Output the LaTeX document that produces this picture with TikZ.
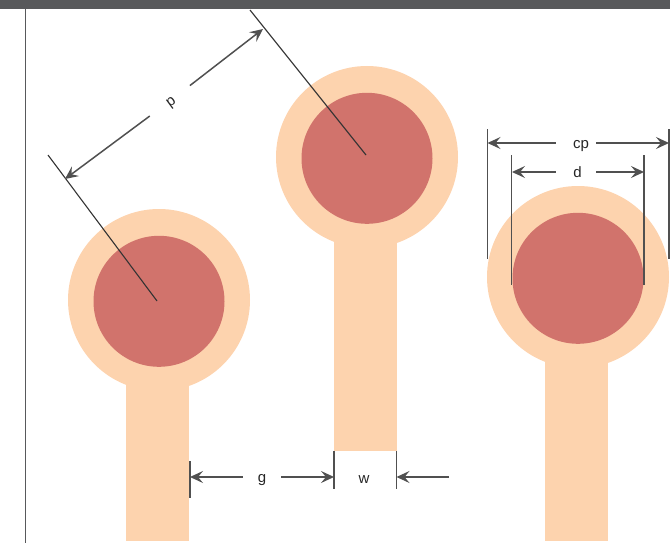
\documentclass[tikz,border=0pt]{standalone}
\usepackage{fontspec}
\setmainfont{Liberation Sans}
\usetikzlibrary{arrows.meta}
\definecolor{padcolor}{HTML}{FDD3AE}
\definecolor{drillcolor}{HTML}{D1736C}
\definecolor{framecolor}{HTML}{58595B}
\definecolor{dimcolor}{HTML}{505050}
\tikzset{
    dimline/.style={dimcolor, line width=1.5pt, -{Stealth[length=13pt, width=12pt, inset=5pt]}},
    extline/.style={dimcolor, line width=1.5pt},
    dimlabel/.style={font=\fontsize{15}{15}\selectfont, inner sep=0pt, minimum height=16pt, text height=11pt, text depth=0pt, text=black!85}
}

\begin{document}
\begin{tikzpicture}[x=1pt, y=-1pt]
\useasboundingbox (0,0) rectangle (670,543);

% Frame
\fill[framecolor] (0,0) rectangle (670,9);
\draw[framecolor, line width=1.5pt] (25.5,9) -- (25.5,543);

% Pads and traces
\foreach \cx/\cy/\ybot in {159/300/541, 367/157/451, 578/277/541} {
    \fill[padcolor] (\cx-33.5,\cy) rectangle (\cx+30,\ybot);
    \fill[padcolor] (\cx,\cy) circle (91);
    \fill[drillcolor] (\cx,\cy+1.3) circle (65.5);
}

% Pitch
\coordinate (pA) at (65,179);
\coordinate (pB) at (263,29);
\node[dimlabel, rotate=36, minimum width=50pt] (ptext) at (170,101) {p};
\draw[black!80, line width=1.1pt] (48,155) -- (157,301);
\draw[black!80, line width=1.1pt] (250,10) -- (366,155);
\draw[dimline] (ptext) -- (pA);
\draw[dimline] (ptext) -- (pB);

% Copper pad diameter
\coordinate (cpL) at (487.5,143);
\coordinate (cpR) at (669,143);
\node[dimlabel, minimum width=40pt] (cptext) at (576,143) {\hspace*{10pt}cp};
\draw[extline] (487.5,129) -- (487.5,259);
\draw[extline] (669,129) -- (669,259);
\draw[dimline] (cptext) -- (cpL);
\draw[dimline] (cptext) -- (cpR);

% Drill diameter
\coordinate (dL) at (512,172);
\coordinate (dR) at (644,172);
\node[dimlabel, minimum width=40pt] (dtext) at (576,172) {\hspace*{3pt}d};
\draw[extline] (511.5,155) -- (511.5,285);
\draw[extline] (644,155) -- (644,285);
\draw[dimline] (dtext) -- (dL);
\draw[dimline] (dtext) -- (dR);

% Gap and trace width
\coordinate (gL) at (190,477);
\coordinate (gR) at (334,477);
\coordinate (wR) at (396.5,477);
\coordinate (wEnd) at (449,477);
\node[dimlabel, minimum width=38pt] (gtext) at (262,477) {g};
\node[dimlabel] (wtext) at (364,478) {w};
\draw[extline] (190,461) -- (190,498);
\draw[extline] (334,451) -- (334,489);
\draw[extline] (396.5,451) -- (396.5,489);
\draw[dimline] (gtext) -- (gL);
\draw[dimline] (gtext) -- (gR);
\draw[dimline] (wEnd) -- (wR);
\end{tikzpicture}
\end{document}
